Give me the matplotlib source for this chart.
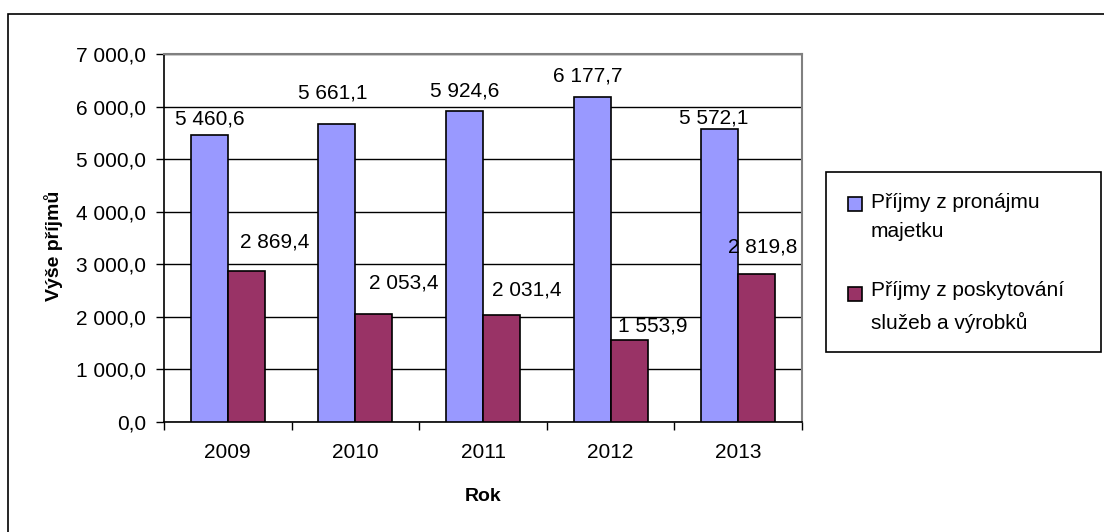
import matplotlib
matplotlib.use("Agg")
from matplotlib import pyplot as plt
from matplotlib.patches import Rectangle
from matplotlib.container import BarContainer
from matplotlib.legend_handler import HandlerPatch, update_from_first_child
import numpy as np

plt.rcParams['font.family'] = ['Liberation Sans', 'DejaVu Sans']

years = ["2009", "2010", "2011", "2012", "2013"]
rent = [5460.6, 5661.1, 5924.6, 6177.7, 5572.1]
services = [2869.4, 2053.4, 2031.4, 1553.9, 2819.8]
series_names = ["Příjmy z pronájmu\nmajetku", "Příjmy z poskytování\nslužeb a výrobků"]

# label nudges in pixels (Excel moved some of them)
rent_off = [(1, 16), (-4, 31), (0, 20), (-4, 21), (-6, 11)]
serv_off = [(28, 29), (30, 31), (25, 25), (24, 14), (6, 27)]

BLUE = "#9999FF"
PURPLE = "#993366"
W, H = 1104, 532
FS = 15

def fmt(v):
	return f"{v:,.1f}".replace(",", " ").replace(".", ",")

def top_square(legend, orig_handle, xdescent, ydescent, width, height, fontsize):
	# Excel puts the key next to the first line of a wrapped label
	return Rectangle((-xdescent, -ydescent + 9.5), width, height)

fig = plt.figure(figsize=(W / 100, H / 100), dpi=100)
ax = fig.add_axes([164 / W, (H - 422) / H, 638 / W, 368 / H])

x = np.arange(len(years))
bw = 0.29
b1 = ax.bar(x - bw / 2, rent, bw, color=BLUE, edgecolor="black", linewidth=1.2, label=series_names[0], zorder=3)
b2 = ax.bar(x + bw / 2, services, bw, color=PURPLE, edgecolor="black", linewidth=1.2, label=series_names[1], zorder=3)

for bars, vals, offs in ((b1, rent, rent_off), (b2, services, serv_off)):
	for r, v, (dx, dy) in zip(bars, vals, offs):
		ax.annotate(fmt(v), (r.get_x() + r.get_width() / 2, v), xytext=(dx, dy),
			textcoords="offset pixels", ha="center", va="center", fontsize=FS, zorder=4)

ax.set_xlim(-0.5, len(years) - 0.5)
ax.set_ylim(0, 7000)
ax.set_yticks(np.arange(0, 7001, 1000))
ax.set_yticklabels([fmt(v) for v in np.arange(0, 7001, 1000)])
ax.yaxis.grid(True, color="black", linewidth=1, zorder=1)
ax.set_axisbelow(True)

ax.set_xticks(np.arange(-0.5, len(years), 1))
ax.set_xticklabels([])
ax.set_xticks(x, minor=True)
ax.set_xticklabels(years, minor=True)
ax.tick_params(axis="x", which="minor", length=0, pad=15, labelsize=FS)
ax.tick_params(axis="x", which="major", length=6, direction="out", width=1)
ax.tick_params(axis="y", length=6, direction="out", width=1, pad=7, labelsize=FS)

for s in ("top", "right"):
	ax.spines[s].set_color("#808080")
	ax.spines[s].set_linewidth(1.5)
for s in ("left", "bottom"):
	ax.spines[s].set_color("black")
	ax.spines[s].set_linewidth(1.2)

ax.set_xlabel("Rok", fontsize=14, fontweight="bold")
ax.xaxis.set_label_coords(0.5, -0.18)
ax.set_ylabel("Výše příjmů", fontsize=14, fontweight="bold")
ax.yaxis.set_label_coords(-0.158, 0.478)

# outer chart border and legend box
fig.patches.append(Rectangle((8 / W, -0.1), 1.2, (H - 14) / H + 0.1, transform=fig.transFigure,
	fill=False, edgecolor="black", linewidth=1.2))
fig.patches.append(Rectangle((826 / W, 1 - 352 / H), (1101 - 826) / W, 180 / H, transform=fig.transFigure,
	fill=False, edgecolor="black", linewidth=1.2))

leg = fig.legend(handles=[b1, b2], labels=series_names, loc="upper left",
	bbox_to_anchor=(848 / W, 1 - 193 / H), frameon=False, fontsize=FS,
	borderpad=0, borderaxespad=0, handlelength=0.67, handleheight=0.67,
	handletextpad=0.42, labelspacing=1.9,
	handler_map={BarContainer: HandlerPatch(patch_func=top_square, update_func=update_from_first_child)})
for t in leg.get_texts():
	t.set_linespacing(1.7)

fig.savefig("out.png", dpi=100)
